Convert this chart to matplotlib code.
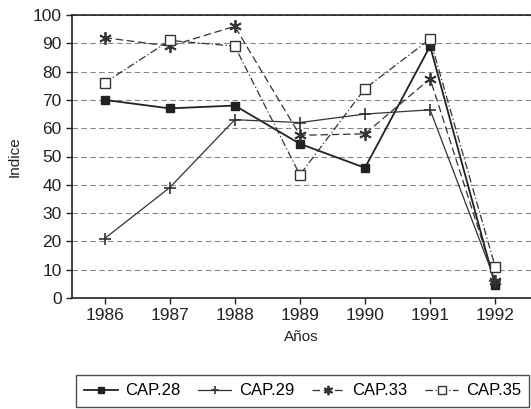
import numpy as np
import matplotlib
matplotlib.use("Agg")
import matplotlib.pyplot as plt

plt.rcParams['font.family'] = ['Liberation Sans', 'DejaVu Sans']

years = [1986, 1987, 1988, 1989, 1990, 1991, 1992]
cap28 = [70, 67, 68, 54.5, 46, 89, 4.5]
cap29 = [21, 39, 63, 62, 65, 66.5, 6]
cap33 = [92, 89, 96, 57.5, 58, 77.5, 6]
cap35 = [76, 91, 89, 43.5, 74, 91.5, 11]
series_names = ["CAP.28", "CAP.29", "CAP.33", "CAP.35"]

fig = plt.figure(figsize=(5.31, 4.09), dpi=100)
ax = fig.add_axes([72/531, 1 - 298/409, (531 - 72)/531, (298 - 15)/409])

# ---- series ----
ax.plot(years, cap28, color='#222222', lw=1.3, ls='-', marker='s', ms=6,
        mfc='#222222', mec='#222222', label=series_names[0])
ax.plot(years, cap29, color='#333333', lw=0.9, ls='-', marker='+', ms=8,
        mew=1.2, label=series_names[1])
ax.plot(years, cap33, color='#333333', lw=0.9, ls=(0, (6, 3)), marker=(6, 2, 0), ms=9,
        mew=1.3, label=series_names[2])
ax.plot(years, cap35, color='#333333', lw=0.9, ls=(0, (6, 2, 1, 2)), marker='s', ms=7,
        mfc='white', mec='#333333', label=series_names[3])

ax.set_xlim(1985.5, 1992.55)
ax.set_ylim(0, 100)
ax.set_yticks(np.arange(0, 101, 10))
ax.set_xticks(years)
ax.yaxis.grid(True, ls=(0, (5, 3)), color='#888888', lw=0.8)
ax.set_axisbelow(True)

ax.spines['right'].set_visible(False)
for s in ['left', 'bottom', 'top']:
    ax.spines[s].set_color('#222222')
    ax.spines[s].set_linewidth(1.2)

ax.tick_params(axis='both', direction='out', length=4, width=1, colors='#222222',
               labelsize=12.5, labelcolor='#222222')
ax.set_ylabel("Indice", fontsize=11, color='#222222', labelpad=8)
ax.set_xlabel("Años", fontsize=11, color='#222222', labelpad=5)

leg = fig.legend(loc='upper left', bbox_to_anchor=(76/531, 1 - 375/409), ncol=4,
                 frameon=True, fancybox=False, edgecolor='#222222', fontsize=12,
                 handlelength=2.0, handletextpad=0.45, columnspacing=1.05,
                 borderpad=0.5, borderaxespad=0, markerscale=0.75)
leg.get_frame().set_linewidth(1.0)

fig.savefig("out.png", dpi=100)
